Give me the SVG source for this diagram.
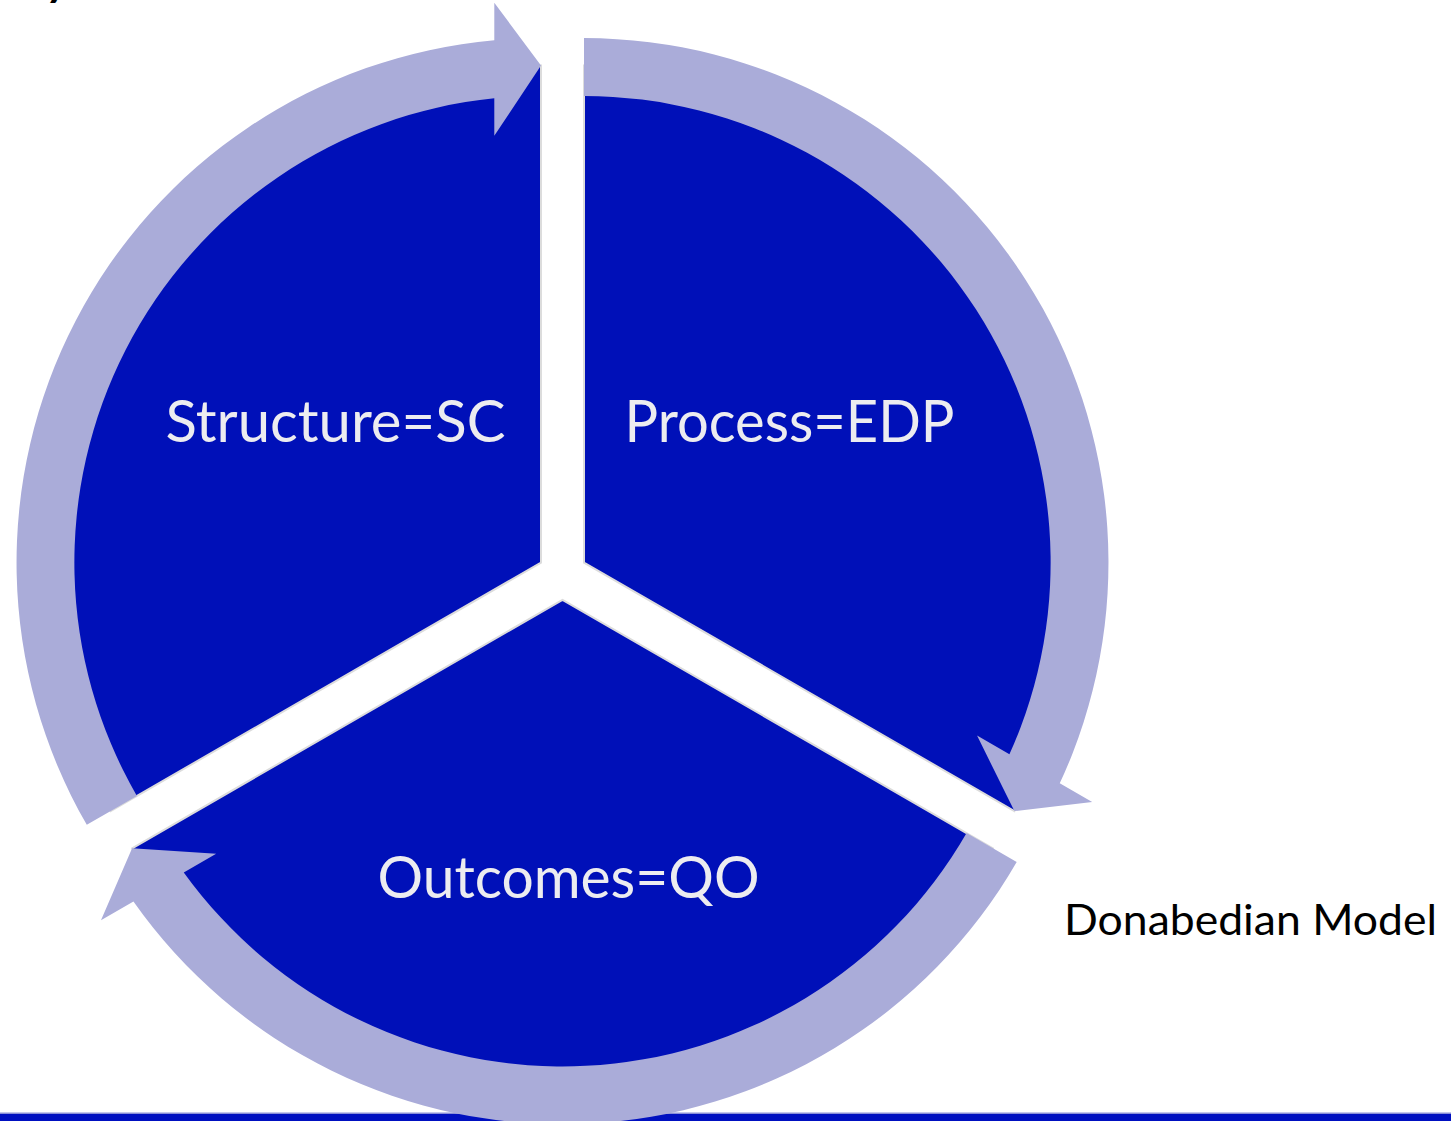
<svg xmlns="http://www.w3.org/2000/svg" width="1451" height="1121" viewBox="0 0 1451 1121">
  <style>
    .pie { fill: #0010B8; stroke: #dcdcdc; stroke-width: 2; stroke-linejoin: miter; }
    .ring { fill: #AAACD9; stroke: none; }
    .lbl { font-family: Lato, "Open Sans", "Liberation Sans", sans-serif; font-size: 58px; fill: #ECECF0; text-anchor: middle; }
    .cap { font-family: Lato, "Open Sans", "Liberation Sans", sans-serif; font-size: 43px; fill: #000000; }
  </style>
  <rect x="0" y="0" width="1451" height="1121" fill="#ffffff"/>
  <text x="48" y="-5" font-family="Lato, 'Liberation Sans', sans-serif" font-size="46" font-weight="bold" font-style="italic" fill="#000">y</text>
  <g id="bottom-bar">
    <rect x="0" y="1112.5" width="1451" height="1.5" fill="#8a8fd8"/>
    <rect x="0" y="1114" width="1451" height="7" fill="#0010C0"/>
  </g>
  <g id="node-structure">
    <path class="pie" d="M 541,562.6 L 110.6,811.1 A 497 497 0 0 1 541,65.6 Z"/>
    <text class="lbl" x="335.5" y="442" textLength="340" lengthAdjust="spacingAndGlyphs">Structure=SC</text>
  </g>
  <g id="node-process">
    <path class="pie" d="M 584,562.6 L 584,65.6 A 497 497 0 0 1 1014.4,811.1 Z"/>
    <text class="lbl" x="789.5" y="442" textLength="330" lengthAdjust="spacingAndGlyphs">Process=EDP</text>
  </g>
  <g id="node-outcomes">
    <path class="pie" d="M 562.5,599.8 L 992.9,848.3 A 497 497 0 0 1 132.1,848.3 Z"/>
    <text class="lbl" x="568.5" y="898" textLength="382" lengthAdjust="spacingAndGlyphs">Outcomes=QO</text>
  </g>
  <g id="connectors">
    <path class="ring" d="M 86.8,824.85 A 524.5 524.5 0 0 1 494.3,40.2 L 494.3,2.7 L 541,65.6 L 494.3,135.7 L 494.3,98.3 A 466.6 466.6 0 0 0 136.9,795.9 Z"/>
    <path class="ring" d="M 584,38.1 A 524.5 524.5 0 0 1 1059.75,783.36 L 1092.2,802.1 L 1014.4,811.1 L 977.05,735.61 L 1009.43,754.31 A 466.6 466.6 0 0 0 584,96 Z"/>
    <path class="ring" d="M 1016.7,862.05 A 524.5 524.5 0 0 1 133.45,901.44 L 100.98,920.19 L 132.1,848.3 L 216.15,853.69 L 183.77,872.39 A 466.6 466.6 0 0 0 966.6,833.1 Z"/>
  </g>
  <g id="caption">
    <text class="cap" x="1064" y="935" textLength="373" lengthAdjust="spacingAndGlyphs">Donabedian Model</text>
  </g>
</svg>
